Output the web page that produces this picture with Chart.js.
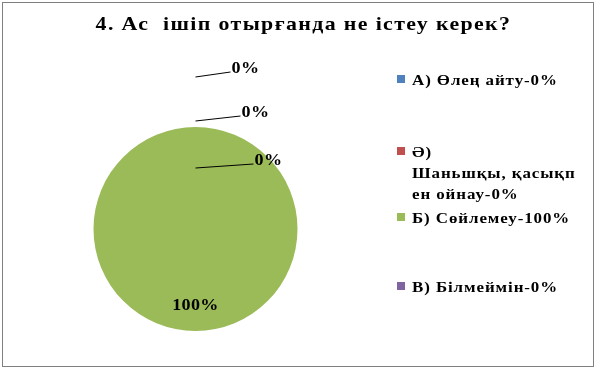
<!DOCTYPE html>
<html>
<head>
<meta charset="utf-8">
<script src="https://cdn.jsdelivr.net/npm/chart.js@4/dist/chart.umd.min.js"></script>
<style>
  html, body { margin: 0; padding: 0; background: #fff; }
  #wrap { position: relative; width: 596px; height: 369px; }
  #frame { position: absolute; left: 2px; top: 2px; width: 590px; height: 363px; border: 1px solid #808080; box-sizing: content-box; pointer-events: none; }
  canvas { position: absolute; left: 0; top: 0; }
</style>
</head>
<body>
<div id="wrap">
  <canvas id="pie" width="596" height="369"></canvas>
  <div id="frame"></div>
</div>
<script>
// chart data
var titleText = "4. Ас  ішіп отырғанда не істеу керек?";
var categories = ["А) Өлең айту-0%", "Ә) Шаньшқы, қасықпен ойнау-0%", "Б) Сөйлемеу-100%", "В) Білмеймін-0%"];
var legendLines = [["А) Өлең айту-0%"], ["Ә)", "Шаньшқы, қасықп", "ен ойнау-0%"], ["Б) Сөйлемеу-100%"], ["В) Білмеймін-0%"]];
var values = [0, 0, 100, 0];
var sliceColors = ["#4F81BD", "#C0504D", "#9BBB59", "#8064A2"];

var serif = "'Liberation Serif', 'Times New Roman', serif";
var stretch = 1.13;   // the original text is rendered slightly wide

// Excel-like placement of the plot square (pie) inside the frame
var plotBox = { left: 93.5, top: 127, size: 204 };
var titleCenterX = 303.5;

var plotAreaPlugin = {
  id: "plotArea",
  afterLayout: function(chart) {
    var a = chart.chartArea;
    a.left = plotBox.left; a.top = plotBox.top;
    a.right = plotBox.left + plotBox.size; a.bottom = plotBox.top + plotBox.size;
    a.width = plotBox.size; a.height = plotBox.size;
  },
  // widen the title the same way
  beforeDraw: function(chart) {
    var ctx = chart.ctx;
    ctx.save();
    ctx.setTransform(1.15, 0, 0, 1, titleCenterX * (1 - 1.15), 0);
    ctx.letterSpacing = "1.2px";
  },
  beforeDatasetsDraw: function(chart) { chart.ctx.restore(); }
};

// leader-line offsets for the stacked 0% labels (relative to the arc anchor)
var zeroLabelOffsets = [
  { sy: -50, ex: 35, ey: -55 },
  { sy: -6, ex: 45, ey: -11 },
  { sy: 41, ex: 58, ey: 37 }
];

function wideText(ctx, text, x, y, align) {
  ctx.save();
  ctx.translate(x, y);
  ctx.scale(stretch, 1);
  ctx.textAlign = align;
  ctx.fillText(text, 0, 0);
  ctx.restore();
}

var pieLabelsPlugin = {
  id: "pieLabels",
  afterDatasetsDraw: function(chart) {
    var ctx = chart.ctx;
    var meta = chart.getDatasetMeta(0);
    var total = values.reduce(function(s, v) { return s + v; }, 0);
    var zi = 0;
    ctx.save();
    ctx.font = "bold 16px " + serif;
    ctx.letterSpacing = "0.3px";
    ctx.fillStyle = "#000";
    meta.data.forEach(function(arc, i) {
      var p = arc.getProps(["x", "y", "startAngle", "endAngle", "outerRadius"], true);
      var pct = Math.round(values[i] / total * 100) + "%";
      if (values[i] > 0) {
        var mid = (p.startAngle + p.endAngle) / 2;
        var r = p.outerRadius * 0.75;
        ctx.textBaseline = "middle";
        wideText(ctx, pct, p.x + Math.cos(mid) * r, p.y + Math.sin(mid) * r, "center");
      } else {
        var ax = p.x + Math.cos(p.startAngle) * p.outerRadius;
        var ay = p.y + Math.sin(p.startAngle) * p.outerRadius;
        var o = zeroLabelOffsets[zi++];
        ctx.strokeStyle = "#000";
        ctx.lineWidth = 1;
        ctx.beginPath();
        ctx.moveTo(ax, ay + o.sy);
        ctx.lineTo(ax + o.ex, ay + o.ey);
        ctx.stroke();
        ctx.textBaseline = "alphabetic";
        wideText(ctx, pct, ax + o.ex + 1, ay + o.ey + 1, "left");
      }
    });
    ctx.restore();
  }
};

// legend on the right, spaced like the original
var legendTop = [85, 157, 223, 292];
var legendPlugin = {
  id: "sideLegend",
  afterDraw: function(chart) {
    var ctx = chart.ctx;
    ctx.save();
    ctx.font = "bold 15px " + serif;
    ctx.letterSpacing = "0.8px";
    ctx.textBaseline = "alphabetic";
    legendLines.forEach(function(lines, i) {
      var y = legendTop[i];
      ctx.fillStyle = sliceColors[i];
      ctx.fillRect(397, y - 10, 8, 8);
      ctx.fillStyle = "#000";
      lines.forEach(function(t, k) {
        wideText(ctx, t, 412, y + k * 21, "left");
      });
    });
    ctx.restore();
  }
};

new Chart(document.getElementById("pie"), {
  type: "pie",
  data: {
    labels: categories,
    datasets: [{
      data: values,
      backgroundColor: sliceColors,
      borderWidth: 0
    }]
  },
  options: {
    responsive: false,
    animation: false,
    layout: { padding: { left: 11, right: 0, top: 0, bottom: 0 } },
    plugins: {
      legend: { display: false },
      tooltip: { enabled: false },
      title: {
        display: true,
        text: titleText,
        color: "#000",
        font: { family: serif, size: 19, weight: "bold" },
        padding: { top: 14, bottom: 4 }
      }
    }
  },
  plugins: [plotAreaPlugin, pieLabelsPlugin, legendPlugin]
});
</script>
</body>
</html>
